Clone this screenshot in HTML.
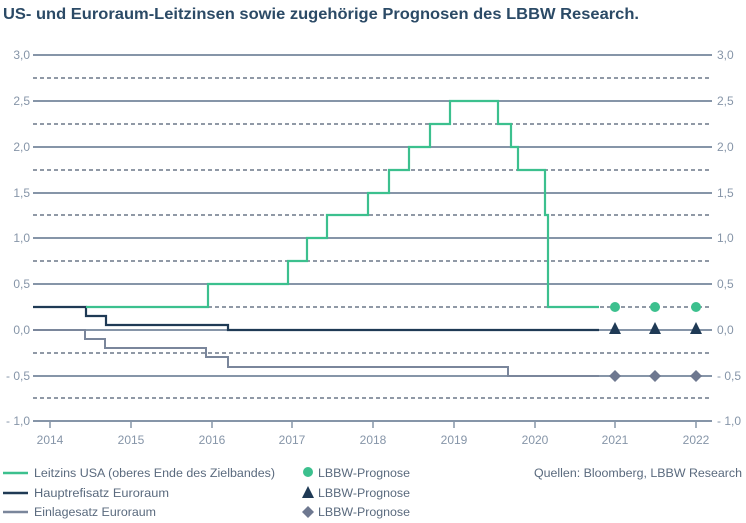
<!DOCTYPE html>
<html><head><meta charset="utf-8"><style>body{margin:0;background:#fff}svg{display:block}</style></head><body>
<svg width="746" height="523" xmlns="http://www.w3.org/2000/svg" font-family="Liberation Sans, sans-serif">
<text x="3" y="19" font-size="15.5" font-weight="bold" fill="#2b4a66" textLength="636" lengthAdjust="spacingAndGlyphs">US- und Euroraum-Leitzinsen sowie zugehörige Prognosen des LBBW Research.</text>
<g stroke="#8695a8" stroke-width="2">
<line x1="33" x2="712" y1="55" y2="55"/><line x1="33" x2="712" y1="101" y2="101"/><line x1="33" x2="712" y1="147" y2="147"/><line x1="33" x2="712" y1="193" y2="193"/><line x1="33" x2="712" y1="238" y2="238"/><line x1="33" x2="712" y1="284" y2="284"/><line x1="33" x2="712" y1="330" y2="330"/><line x1="33" x2="712" y1="376" y2="376"/><line x1="33" x2="712" y1="421" y2="421"/>
</g>
<g stroke="#4d5c70" stroke-width="1.3" stroke-dasharray="4,3">
<line x1="33" x2="712" y1="78" y2="78"/><line x1="33" x2="712" y1="124" y2="124"/><line x1="33" x2="712" y1="170" y2="170"/><line x1="33" x2="712" y1="215" y2="215"/><line x1="33" x2="712" y1="261" y2="261"/><line x1="33" x2="712" y1="307" y2="307"/><line x1="33" x2="712" y1="353" y2="353"/><line x1="33" x2="712" y1="398" y2="398"/>
</g>
<g stroke="#8695a8" stroke-width="1.5">
<line x1="50" x2="50" y1="421" y2="428"/><line x1="131" x2="131" y1="421" y2="428"/><line x1="212" x2="212" y1="421" y2="428"/><line x1="292" x2="292" y1="421" y2="428"/><line x1="373" x2="373" y1="421" y2="428"/><line x1="454" x2="454" y1="421" y2="428"/><line x1="535" x2="535" y1="421" y2="428"/><line x1="615" x2="615" y1="421" y2="428"/><line x1="696" x2="696" y1="421" y2="428"/>
</g>
<g font-size="12" fill="#8695a8" text-anchor="middle">
<text x="50" y="444">2014</text><text x="131" y="444">2015</text><text x="212" y="444">2016</text><text x="292" y="444">2017</text><text x="373" y="444">2018</text><text x="454" y="444">2019</text><text x="535" y="444">2020</text><text x="615" y="444">2021</text><text x="696" y="444">2022</text>
</g>
<g font-size="12" fill="#8695a8" text-anchor="end">
<text x="30" y="59">3,0</text><text x="30" y="105">2,5</text><text x="30" y="151">2,0</text><text x="30" y="197">1,5</text><text x="30" y="242">1,0</text><text x="30" y="288">0,5</text><text x="30" y="334">0,0</text><text x="30" y="380">- 0,5</text><text x="30" y="425">- 1,0</text>
</g>
<g font-size="12" fill="#8695a8">
<text x="717" y="59">3,0</text><text x="717" y="105">2,5</text><text x="717" y="151">2,0</text><text x="717" y="197">1,5</text><text x="717" y="242">1,0</text><text x="717" y="288">0,5</text><text x="717" y="334">0,0</text><text x="717" y="380">- 0,5</text><text x="717" y="425">- 1,0</text>
</g>
<polyline fill="none" stroke="#7a869b" stroke-width="2" points="33,330 85,330 85,339 105,339 105,348 206,348 206,357 228,357 228,367 508,367 508,376 599,376"/>
<polyline fill="none" stroke="#1f3a55" stroke-width="2.2" points="33,307 86,307 86,316 106,316 106,325 228,325 228,330 599,330"/>
<polyline fill="none" stroke="#3cc08e" stroke-width="2.2" points="86,307 208,307 208,284 288,284 288,261 307,261 307,238 327,238 327,215 368,215 368,193 389,193 389,170 409,170 409,147 430,147 430,124 450,124 450,101 498,101 498,124 511,124 511,147 518,147 518,170 545,170 545,215 548,215 548,307 599,307"/>
<g fill="#3cc08e"><circle cx="615" cy="307" r="5"/><circle cx="655" cy="307" r="5"/><circle cx="696" cy="307" r="5"/></g>
<g fill="#1f3a55"><path d="M615,322 L621,334 L609,334Z"/><path d="M655,322 L661,334 L649,334Z"/><path d="M696,322 L702,334 L690,334Z"/></g>
<g fill="#6e7890"><path d="M615,370 L621,376 L615,382 L609,376Z"/><path d="M655,370 L661,376 L655,382 L649,376Z"/><path d="M696,370 L702,376 L696,382 L690,376Z"/></g>
<line x1="3" x2="28" y1="473" y2="473" stroke="#3cc08e" stroke-width="2.5"/>
<line x1="3" x2="28" y1="493" y2="493" stroke="#1f3a55" stroke-width="2.5"/>
<line x1="3" x2="28" y1="512" y2="512" stroke="#7a869b" stroke-width="2.5"/>
<g font-size="12.4" fill="#5a6a7e">
<text x="34" y="477" textLength="241" lengthAdjust="spacingAndGlyphs">Leitzins USA (oberes Ende des Zielbandes)</text>
<text x="34" y="497" textLength="135" lengthAdjust="spacingAndGlyphs">Hauptrefisatz Euroraum</text>
<text x="34" y="516" textLength="122" lengthAdjust="spacingAndGlyphs">Einlagesatz Euroraum</text>
<text x="318" y="477" textLength="92" lengthAdjust="spacingAndGlyphs">LBBW-Prognose</text>
<text x="318" y="497" textLength="92" lengthAdjust="spacingAndGlyphs">LBBW-Prognose</text>
<text x="318" y="516" textLength="92" lengthAdjust="spacingAndGlyphs">LBBW-Prognose</text>
<text x="742" y="477" text-anchor="end">Quellen: Bloomberg, LBBW Research</text>
</g>
<circle cx="308" cy="472" r="5" fill="#3cc08e"/>
<path d="M308,486 L314,498 L302,498Z" fill="#1f3a55"/>
<path d="M308,506 L314,512 L308,518 L302,512Z" fill="#6e7890"/>
</svg>
</body></html>
